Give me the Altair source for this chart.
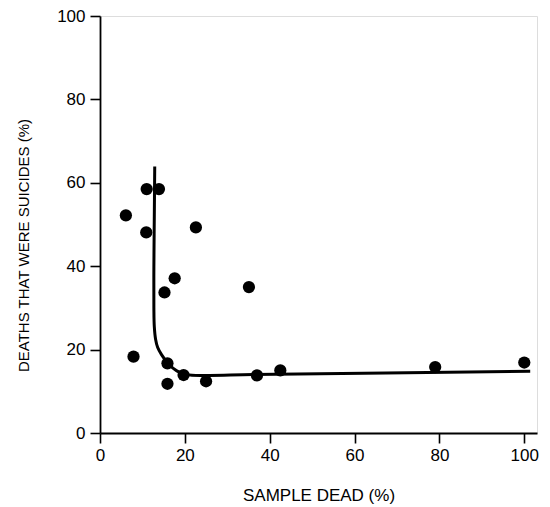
import altair as alt
import pandas as pd

# Scatter points: sample dead (%) vs deaths that were suicides (%)
sample_dead = [6.1, 7.9, 11.0, 10.9, 13.9, 15.2, 17.6, 22.6, 15.9, 15.9, 19.7, 25.0, 35.1, 37.0, 42.5, 79.0, 100.0]
suicides = [52.2, 18.3, 58.5, 48.1, 58.5, 33.7, 37.1, 49.3, 16.7, 11.8, 13.9, 12.4, 35.0, 13.8, 15.0, 15.8, 16.9]

# Fitted curve
curve_x = [12.9, 12.8, 12.7, 12.7, 12.8, 13.1, 13.6, 14.5, 16.1, 18.1, 20.4, 25.2, 36.1, 101.4]
curve_y = [63.9, 52.0, 40.0, 30.0, 25.5, 22.5, 20.5, 18.8, 16.6, 14.9, 14.0, 13.8, 14.0, 14.8]

x_ticks = [0, 20, 40, 60, 80, 100]
y_ticks = [0, 20, 40, 60, 80, 100]

pts = pd.DataFrame({"x": sample_dead, "y": suicides})
crv = pd.DataFrame({"x": curve_x, "y": curve_y, "i": list(range(len(curve_x)))})

FONT = "Liberation Sans"

xs = alt.Scale(domain=[0, 103], nice=False, zero=False)
ys = alt.Scale(domain=[0, 100], nice=False)

xaxis = alt.Axis(values=x_ticks, grid=False, title="SAMPLE DEAD (%)",
                 domainColor="black", domainWidth=1.8, tickColor="black", tickWidth=1.6,
                 tickSize=10, labelFont=FONT, labelFontSize=17, labelColor="black",
                 labelPadding=4, titleFont=FONT, titleFontSize=17, titleFontWeight="normal",
                 titleColor="black", titlePadding=24, labelFlush=False)
yaxis = alt.Axis(values=y_ticks, grid=False, title="DEATHS THAT WERE SUICIDES (%)",
                 domainColor="black", domainWidth=1.8, tickColor="black", tickWidth=1.6,
                 tickSize=10, labelFont=FONT, labelFontSize=17, labelColor="black",
                 labelPadding=5, titleFont=FONT, titleFontSize=15, titleFontWeight="normal",
                 titleColor="black", titlePadding=25, titleY=229, labelFlush=False)

line = alt.Chart(crv).mark_line(color="black", strokeWidth=3, interpolate="catmull-rom").encode(
    x=alt.X("x:Q", scale=xs, axis=xaxis),
    y=alt.Y("y:Q", scale=ys, axis=yaxis),
    order="i:Q",
)

dots = alt.Chart(pts).mark_circle(color="black", opacity=1, size=150).encode(
    x=alt.X("x:Q", scale=xs),
    y=alt.Y("y:Q", scale=ys),
)

chart = alt.layer(line, dots).properties(
    width=437, height=417,
    autosize=alt.AutoSizeParams(type="none"),
    padding={"left": 92, "top": 8, "right": 5, "bottom": 74},
).configure_view(stroke=None).configure(background="white")

chart.save("out.html", embed_options={"renderer": "svg", "actions": False})
